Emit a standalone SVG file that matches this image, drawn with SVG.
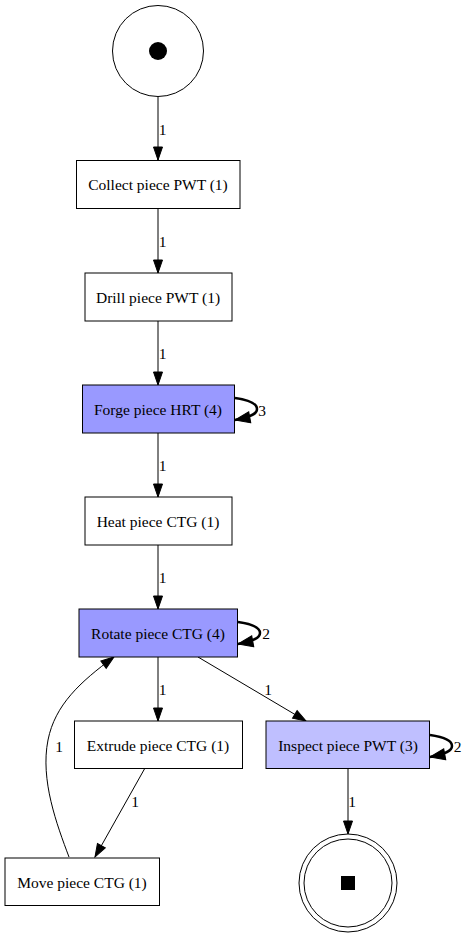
<svg xmlns="http://www.w3.org/2000/svg" width="467" height="936" viewBox="0 0 467 936">
<style>
.n{stroke:#000;stroke-width:1;fill:#fff}
.h{fill:#9999ff}
.m{fill:#bfbfff}
text{font-size:15.5px;fill:#000;text-anchor:middle}
.e{fill:none;stroke:#000;stroke-width:1;marker-end:url(#a)}
.l{fill:none;stroke:#000;stroke-width:2.5;marker-end:url(#b)}
</style>
<defs>
<marker id="a" markerUnits="userSpaceOnUse" markerWidth="13" markerHeight="9" refX="13" refY="4.5" orient="auto" overflow="visible"><path d="M0,0 L13,4.5 L0,9 z" fill="#000" stroke="#000"/></marker>
<marker id="b" markerUnits="userSpaceOnUse" markerWidth="15" markerHeight="11" refX="15" refY="5.5" orient="auto" overflow="visible"><path d="M0,0 L15,5.5 L0,11 z" fill="#000" stroke="#000"/></marker>
</defs>
<rect width="467" height="936" fill="#fff"/>
<g font-family="'Liberation Serif', 'Times New Roman', Times, serif">
<g id="edges">
<path class="e" d="M158,97 L158,160"/><text x="162.5" y="135">1</text>
<path class="e" d="M158,208 L158,273"/><text x="162.5" y="247">1</text>
<path class="e" d="M158,321 L158,385"/><text x="162.5" y="359">1</text>
<path class="e" d="M158,433 L158,497"/><text x="162.5" y="471">1</text>
<path class="e" d="M158,545 L158,609"/><text x="162.5" y="583">1</text>
<path class="e" d="M158,657 L158,721"/><text x="162.5" y="695">1</text>
<path class="e" d="M198,657 L306,721"/><text x="268" y="695">1</text>
<path class="e" d="M145,768 L95,857"/><text x="135" y="807">1</text>
<path class="e" d="M69,857 C57,825 40,780 48,740 C55,705 80,682 114,657"/><text x="59" y="752">1</text>
<path class="e" d="M348,768 L348,834"/><text x="352" y="807">1</text>
<path class="l" d="M235,398 C249,400 257,404 257,409 C257,414 251,417 235,420"/><text x="262" y="416">3</text>
<path class="l" d="M238,622 C252,624 260,628 260,633 C260,638 254,641 238,644"/><text x="266" y="639">2</text>
<path class="l" d="M430,735 C444,737 452,741 452,746 C452,751 446,754 430,757"/><text x="457.5" y="752">2</text>
</g>
<g id="start"><circle class="n" cx="158" cy="51" r="45.5"/><circle cx="158" cy="51" r="9" fill="#000"/></g>
<g id="collect"><rect class="n" x="76.5" y="160.5" width="163.5" height="48"/><text x="158" y="190">Collect piece PWT (1)</text></g>
<g id="drill"><rect class="n" x="85" y="273" width="147" height="48"/><text x="158" y="302.5">Drill piece PWT (1)</text></g>
<g id="forge"><rect class="n h" x="82.5" y="385" width="152" height="48"/><text x="158" y="414.5">Forge piece HRT (4)</text></g>
<g id="heat"><rect class="n" x="85" y="497" width="147" height="48"/><text x="158" y="526.5">Heat piece CTG (1)</text></g>
<g id="rotate"><rect class="n h" x="79" y="609" width="158.5" height="48"/><text x="158" y="638.5">Rotate piece CTG (4)</text></g>
<g id="extrude"><rect class="n" x="74.5" y="721" width="168" height="47.5"/><text x="158" y="750.5">Extrude piece CTG (1)</text></g>
<g id="inspect"><rect class="n m" x="266" y="721" width="163.5" height="47.5"/><text x="348" y="750.5">Inspect piece PWT (3)</text></g>
<g id="move"><rect class="n" x="5" y="858" width="154.5" height="47.5"/><text x="82" y="887.5">Move piece CTG (1)</text></g>
<g id="end"><circle class="n" cx="348" cy="883" r="49"/><circle class="n" cx="348" cy="883" r="44"/><rect x="341" y="876" width="14" height="14" fill="#000"/></g>
</g>
</svg>
